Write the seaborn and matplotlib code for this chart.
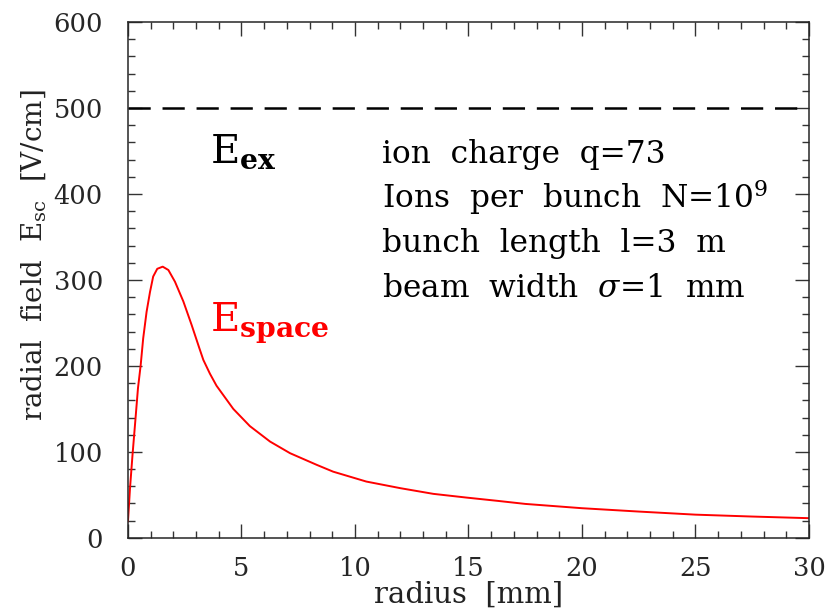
import numpy as np
import pandas as pd
import seaborn as sns
import matplotlib.pyplot as plt
from matplotlib.ticker import MultipleLocator

# values
radius_mm = [0.0, 0.09, 0.2, 0.32, 0.44, 0.56, 0.67, 0.82, 0.97, 1.11,
             1.29, 1.53, 1.78, 2.07, 2.44, 2.8, 3.14, 3.32, 3.61, 3.9,
             4.64, 5.37, 6.26, 7.14, 8.31, 9.04, 10.5, 12.0, 13.45, 14.9,
             16.3, 17.5, 20.0, 22.5, 25.0, 27.5, 30.0]
field_v_cm = [19, 58, 96.5, 135, 174, 201, 232, 263, 286, 304,
              313, 315.5, 311.6, 298, 275, 248, 221, 207, 191, 177,
              150, 130, 112, 98.5, 85, 77, 65.5, 57.8, 51.2, 46.9,
              43, 39.5, 34.5, 30.6, 27, 24.8, 22.9]
external_field = 500

info_lines = [
    "ion  charge  q=73",
    "Ions  per  bunch  N=10$^{9}$",
    "bunch  length  l=3  m",
    "beam  width  $\\sigma$=1  mm",
]

sns.set_style("ticks")
plt.rcParams["font.family"] = ["DejaVu Serif"]
plt.rcParams["mathtext.fontset"] = "dejavuserif"
plt.rcParams["lines.scale_dashes"] = False

df = pd.DataFrame({"radius": radius_mm, "field": field_v_cm})

fig = plt.figure(figsize=(8.31, 6.14), dpi=100)
ax = fig.add_axes([0.154, 0.124, 0.8195, 0.840])

sns.lineplot(data=df, x="radius", y="field", color="red", linewidth=1.4, ax=ax)
ax.axhline(external_field, color="black", linewidth=1.8, dashes=(16, 8.5))

ax.set_xlim(0, 30)
ax.set_ylim(0, 600)
ax.xaxis.set_major_locator(MultipleLocator(5))
ax.xaxis.set_minor_locator(MultipleLocator(1))
ax.yaxis.set_major_locator(MultipleLocator(100))
ax.yaxis.set_minor_locator(MultipleLocator(20))
ax.tick_params(which="both", direction="in", top=True, right=True,
               color="#333333", width=1.0)
ax.tick_params(which="major", length=10, labelsize=18.5)
ax.tick_params(axis="x", which="major", pad=13)
ax.tick_params(axis="y", which="major", pad=18)
ax.tick_params(which="minor", length=5)
for sp in ax.spines.values():
    sp.set_linewidth(1.1)

ax.set_xlabel("radius  [mm]", fontsize=21, color="#222222")
ax.xaxis.set_label_coords(0.5, -0.083)
ax.set_ylabel("radial  field  E$_{\\mathrm{sc}}$  [V/cm]", fontsize=20,
              color="#222222")
ax.yaxis.set_label_coords(-0.118, 0.548)

ax.text(3.6, 436, "E$_{\\mathbf{ex}}$", fontsize=29, color="black",
        ha="left", va="baseline")
ax.text(3.6, 240, "E$_{\\mathbf{space}}$", fontsize=29, color="red",
        ha="left", va="baseline")

for i, line in enumerate(info_lines):
    ax.text(11.2, 436 - i * 52, line, fontsize=22.5, color="black",
            ha="left", va="baseline")

fig.savefig("out.png", dpi=100)
